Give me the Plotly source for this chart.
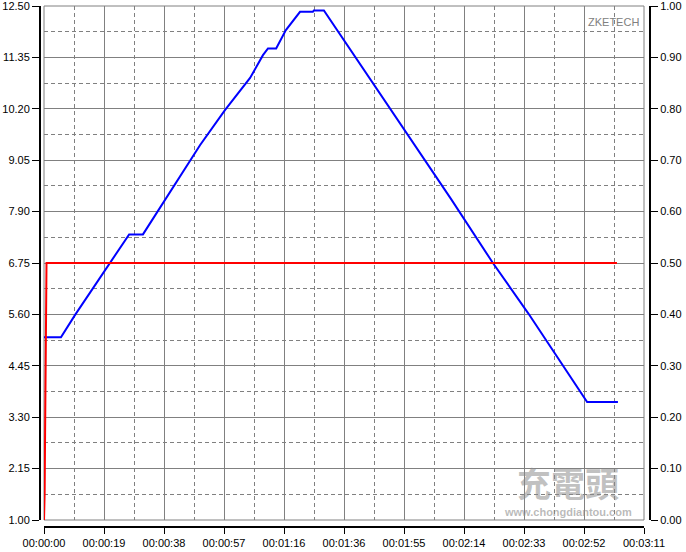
import plotly.graph_objects as go

# ---- data ----
volt_time = [0, 5.4, 9.9, 27.1, 31.5, 38.5, 49.7, 57.6, 65.6, 69.7, 71.3, 73.9, 77.0, 81.5, 85.6, 85.9, 89.1, 129.6, 142.9, 154.1, 172.9, 182.7]
volt_vals = [5.09, 5.09, 5.59, 7.39, 7.39, 8.16, 9.39, 10.17, 10.89, 11.40, 11.55, 11.55, 11.96, 12.37, 12.37, 12.40, 12.40, 8.18, 6.75, 5.63, 3.64, 3.64]

curr_time = [0, 0.2, 0.35, 0.5, 0.8, 182.4]
curr_vals = [0.0, 0.05, 0.17, 0.33, 0.50, 0.50]

x_tickvals = [round(i * 19.1, 4) for i in range(11)]
x_ticktext = ["00:00:00", "00:00:19", "00:00:38", "00:00:57", "00:01:16", "00:01:36",
              "00:01:55", "00:02:14", "00:02:33", "00:02:52", "00:03:11"]
y_tickvals = [round(1.00 + 1.15 * i, 4) for i in range(11)]
y2_tickvals = [round(0.1 * i, 4) for i in range(11)]

W, H = 686, 552
L, R, T, B = 44, 644, 6, 520

fig = go.Figure()
fig.add_trace(go.Scatter(x=volt_time, y=volt_vals, mode="lines",
                         line=dict(color="#0000ff", width=2), yaxis="y", showlegend=False))
fig.add_trace(go.Scatter(x=curr_time, y=curr_vals, mode="lines",
                         line=dict(color="#ff0000", width=2), yaxis="y2", showlegend=False))

font = dict(family="Liberation Sans, Arial", size=11, color="#000000")
grid = "#808080"

fig.update_layout(
    width=W, height=H,
    margin=dict(l=0, r=0, t=0, b=0),
    paper_bgcolor="white", plot_bgcolor="white",
    font=font,
    xaxis=dict(
        domain=[L / W, R / W], range=[0, 191], anchor="free", position=(H - 527) / H,
        tickmode="array", tickvals=x_tickvals, ticktext=x_ticktext,
        showline=True, linecolor="#000000", linewidth=2,
        ticks="outside", ticklen=6, tickwidth=1, tickcolor="#000000",
        showgrid=True, gridcolor=grid, gridwidth=1, zeroline=False,
        minor=dict(tickvals=[round(19.1 * i + 9.55, 4) for i in range(10)], showgrid=True,
                   gridcolor=grid, griddash="4px,3px", gridwidth=1, ticks=""),
        automargin=False, fixedrange=True, ticklabeloverflow="allow",
    ),
    yaxis=dict(
        domain=[(H - B) / H, (H - T) / H], range=[1.0, 12.5], anchor="free", position=40 / W,
        tickmode="array", tickvals=y_tickvals, tickformat=".2f",
        showline=True, linecolor="#000000", linewidth=2,
        ticks="outside", ticklen=7, tickwidth=1, tickcolor="#000000",
        showgrid=True, gridcolor=grid, gridwidth=1, zeroline=False,
        minor=dict(tickvals=[round(1.575 + 1.15 * i, 4) for i in range(10)], showgrid=True,
                   gridcolor=grid, griddash="4px,3px", gridwidth=1, ticks=""),
        automargin=False, fixedrange=True, ticklabeloverflow="allow",
    ),
    yaxis2=dict(
        domain=[(H - B) / H, (H - T) / H], range=[0, 1.0], anchor="free", position=650 / W,
        overlaying="y", side="right",
        tickmode="array", tickvals=y2_tickvals, tickformat=".2f",
        showline=True, linecolor="#000000", linewidth=2,
        ticks="outside", ticklen=7, tickwidth=1, tickcolor="#000000",
        showgrid=False, zeroline=False, automargin=False, fixedrange=True,
        ticklabeloverflow="allow",
    ),
)

# plot border
fig.add_shape(type="rect", xref="x domain", yref="y domain", x0=0, x1=1, y0=0, y1=1,
              line=dict(color=grid, width=1), layer="below")

# watermark texts
fig.add_annotation(text="ZKETECH", xref="paper", yref="paper", x=641 / W, y=(H - 22) / H,
                   xanchor="right", yanchor="middle", showarrow=False,
                   font=dict(family="Liberation Sans, Arial", size=11, color="#808080"))
fig.add_annotation(text="<b>充電頭</b>", xref="paper", yref="paper", x=568 / W, y=(H - 482) / H,
                   xanchor="center", yanchor="middle", showarrow=False,
                   font=dict(family="Noto Sans CJK TC", size=34, color="rgba(140,140,140,0.55)"))
fig.add_annotation(text="<b>www.chongdiantou.com</b>", xref="paper", yref="paper", x=568 / W, y=(H - 512) / H,
                   xanchor="center", yanchor="middle", showarrow=False,
                   font=dict(family="Liberation Sans, Arial", size=11, color="rgba(140,140,140,0.6)"))

fig.write_html("out.html", config={"displayModeBar": False},
               post_script="document.body.style.margin='0';document.body.style.overflow='hidden';")
